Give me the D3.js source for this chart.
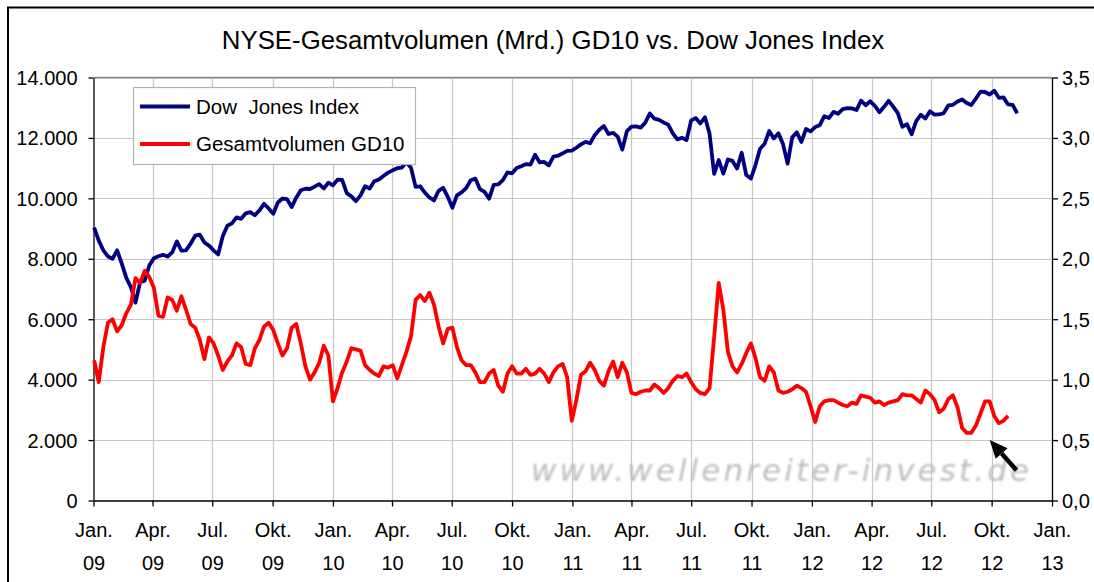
<!DOCTYPE html>
<html>
<head>
<meta charset="utf-8">
<script src="https://cdn.jsdelivr.net/npm/d3@7"></script>
<style>
body { margin: 0; background: #fff; }
svg text { font-family: "Liberation Sans", Arial, sans-serif; fill: #000; }
</style>
</head>
<body>
<div id="chart"></div>
<script>
// Dow Jones Index, weekly closes
var dow2009 = [9034, 8599, 8281, 8077, 8001, 8280, 7850, 7366, 7063, 6550, 7224, 7278, 7776, 8018, 8083, 8131, 8076, 8212, 8575, 8268,
    8277, 8500, 8764, 8799, 8539, 8438, 8280, 8146, 8743, 9093, 9171, 9370, 9321, 9505, 9544, 9441, 9605, 9820, 9665, 9487,
    9864, 9995, 9972, 9712, 10023, 10270, 10318, 10309, 10388, 10471, 10328, 10520];
var dow2010 = [10428, 10618, 10610, 10172, 10067, 9908, 10099, 10402, 10325, 10567, 10625, 10742, 10851, 10927, 10997, 11019, 11204, 11009, 10380, 10400,
    10193, 10030, 9932, 10250, 10350, 10050, 9686, 10100, 10200, 10340, 10600, 10654, 10303, 10214, 9990, 10448, 10462, 10607, 10860, 10829,
    11006, 11062, 11133, 11118, 11444, 11192, 11204, 11092, 11382, 11410, 11491, 11573];
var dow2011 = [11578, 11675, 11787, 11871, 11823, 12092, 12273, 12391, 12130, 12169, 12044, 11613, 12221, 12376, 12380, 12341, 12505, 12811, 12638, 12596,
    12512, 12441, 12151, 11952, 12004, 11934, 12582, 12657, 12480, 12681, 12143, 10810, 11269, 10818, 11285, 11240, 10992, 11509, 10771, 10655,
    11103, 11644, 11809, 12231, 11983, 12153, 11796, 11150, 12019, 12184, 11867, 12294];
var dow2012 = [12218, 12360, 12422, 12720, 12660, 12862, 12801, 12950, 12983, 12978, 12922, 13233, 13081, 13212, 13060, 12850, 13029, 13228, 13038, 12821,
    12369, 12455, 12119, 12554, 12767, 12640, 12880, 12772, 12777, 12822, 13075, 13096, 13207, 13275, 13157, 13090, 13306, 13530, 13520, 13437,
    13560, 13328, 13343, 13107, 13093, 12815];

// NYSE total volume, 10-day average (Mrd.)
var vol2009 = [1.16, 0.98, 1.27, 1.47, 1.50, 1.40, 1.45, 1.55, 1.62, 1.84, 1.80, 1.90, 1.85, 1.76, 1.53, 1.52, 1.68, 1.66, 1.57, 1.69,
    1.58, 1.46, 1.43, 1.33, 1.17, 1.35, 1.30, 1.20, 1.08, 1.15, 1.20, 1.30, 1.27, 1.13, 1.12, 1.26, 1.33, 1.44, 1.47, 1.41,
    1.30, 1.20, 1.26, 1.43, 1.46, 1.30, 1.11, 1.00, 1.06, 1.14, 1.28, 1.20];
var vol2010 = [0.82, 0.93, 1.06, 1.15, 1.26, 1.25, 1.24, 1.12, 1.08, 1.05, 1.03, 1.11, 1.10, 1.12, 1.01, 1.12, 1.23, 1.36, 1.66, 1.70,
    1.65, 1.72, 1.62, 1.44, 1.30, 1.42, 1.43, 1.27, 1.16, 1.12, 1.12, 1.06, 0.98, 0.98, 1.05, 1.08, 0.95, 0.90, 1.05, 1.11,
    1.05, 1.05, 1.09, 1.04, 1.05, 1.09, 1.05, 0.98, 1.06, 1.11, 1.13, 1.02];
var vol2011 = [0.66, 0.83, 1.04, 1.07, 1.14, 1.08, 0.99, 0.95, 1.07, 1.15, 1.02, 1.14, 1.06, 0.89, 0.88, 0.90, 0.91, 0.91, 0.96, 0.93,
    0.89, 0.93, 0.99, 1.03, 1.02, 1.05, 0.98, 0.92, 0.89, 0.88, 0.93, 1.35, 1.80, 1.58, 1.23, 1.11, 1.06, 1.13, 1.22, 1.30,
    1.18, 1.02, 0.99, 1.11, 1.06, 0.91, 0.89, 0.90, 0.92, 0.95, 0.93, 0.90];
var vol2012 = [0.78, 0.65, 0.78, 0.82, 0.83, 0.83, 0.81, 0.79, 0.78, 0.81, 0.80, 0.87, 0.86, 0.85, 0.81, 0.82, 0.79, 0.81, 0.82, 0.83,
    0.88, 0.87, 0.87, 0.84, 0.81, 0.91, 0.88, 0.83, 0.73, 0.76, 0.84, 0.87, 0.77, 0.60, 0.56, 0.56, 0.62, 0.72, 0.82, 0.82,
    0.70, 0.64, 0.66, 0.70];

var leftTicks = [0, 2000, 4000, 6000, 8000, 10000, 12000, 14000];
var leftTickLabels = ["0", "2.000", "4.000", "6.000", "8.000", "10.000", "12.000", "14.000"];
var rightTicks = [0, 0.5, 1, 1.5, 2, 2.5, 3, 3.5];
var rightTickLabels = ["0,0", "0,5", "1,0", "1,5", "2,0", "2,5", "3,0", "3,5"];
var monthLabels = ["Jan.", "Apr.", "Jul.", "Okt."];
var seriesNames = ["Dow  Jones Index", "Gesamtvolumen GD10"];
var titleText = "NYSE-Gesamtvolumen (Mrd.) GD10 vs. Dow Jones Index";
var watermarkText = "www.wellenreiter-invest.de";

var svgWidth = 1094;
var svgHeight = 582;
var plot = { left: 93.5, right: 1052, top: 77.5, bottom: 500.5 };

var svg = d3.select("#chart").append("svg")
    .attr("width", svgWidth)
    .attr("height", svgHeight);

// weekly dates (Fridays) starting with the first trading week of 2009
var weeks = d3.timeFriday.range(new Date(2009, 0, 2), new Date(2012, 10, 10));
var dow = dow2009.concat(dow2010, dow2011, dow2012);
var vol = vol2009.concat(vol2010, vol2011, vol2012);

var dowData = weeks.map(function(d, i) { return { date: d, value: dow[i] }; });
var volData = weeks.slice(0, vol.length).map(function(d, i) { return { date: d, value: vol[i] }; });

var x = d3.scaleTime()
    .domain([new Date(2009, 0, 1), new Date(2013, 0, 1)])
    .range([plot.left, plot.right]);
var yLeft = d3.scaleLinear().domain([0, 14000]).range([plot.bottom, plot.top]);
var yRight = d3.scaleLinear().domain([0, 3.5]).range([plot.bottom, plot.top]);

var quarters = d3.timeMonth.every(3).range(new Date(2009, 0, 1), new Date(2013, 0, 2));

// outer frame of the chart
svg.append("path")
    .attr("d", "M8,582 V7.5 H1094")
    .attr("fill", "none")
    .attr("stroke", "#000")
    .attr("stroke-width", 2);

// title
svg.append("text")
    .attr("x", 553)
    .attr("y", 49)
    .attr("text-anchor", "middle")
    .style("font-size", "25.8px")
    .text(titleText);

// grid
var grid = svg.append("g");
grid.selectAll(".hgrid")
    .data(leftTicks.slice(1))
    .enter()
    .append("line")
    .attr("x1", plot.left)
    .attr("x2", plot.right)
    .attr("y1", d => Math.round(yLeft(d)) + 0.5)
    .attr("y2", d => Math.round(yLeft(d)) + 0.5)
    .attr("stroke", "#c6c6c6")
    .attr("stroke-width", 1.2);
grid.selectAll(".vgrid")
    .data(quarters.slice(1, -1))
    .enter()
    .append("line")
    .attr("x1", d => Math.round(x(d)) + 0.5)
    .attr("x2", d => Math.round(x(d)) + 0.5)
    .attr("y1", plot.top)
    .attr("y2", plot.bottom)
    .attr("stroke", "#c6c6c6")
    .attr("stroke-width", 1.2);

// watermark
var defs = svg.append("defs");
defs.append("filter").attr("id", "soft")
    .append("feGaussianBlur").attr("stdDeviation", 0.8);
svg.append("text")
    .attr("x", 531)
    .attr("y", 481)
    .attr("textLength", 498)
    .attr("lengthAdjust", "spacing")
    .attr("filter", "url(#soft)")
    .style("font-family", "'DejaVu Sans', sans-serif")
    .style("font-style", "italic")
    .style("font-size", "31px")
    .style("fill", "#bdbdbd")
    .text(watermarkText);

// axes
var leftAxis = d3.axisLeft(yLeft)
    .tickValues(leftTicks)
    .tickSize(5)
    .tickSizeOuter(0)
    .tickPadding(11)
    .tickFormat((d, i) => leftTickLabels[i]);
var rightAxis = d3.axisRight(yRight)
    .tickValues(rightTicks)
    .tickSize(6)
    .tickSizeOuter(0)
    .tickPadding(4)
    .tickFormat((d, i) => rightTickLabels[i]);
var bottomAxis = d3.axisBottom(x)
    .tickValues(quarters)
    .tickSize(6)
    .tickSizeOuter(0)
    .tickFormat("");

var gLeft = svg.append("g")
    .attr("transform", `translate(${plot.left}, 0)`)
    .call(leftAxis);
var gRight = svg.append("g")
    .attr("transform", `translate(${plot.right}, 0)`)
    .call(rightAxis);
var gBottom = svg.append("g")
    .attr("transform", `translate(0, ${plot.bottom})`)
    .call(bottomAxis);

[gLeft, gRight, gBottom].forEach(function(g) {
    g.selectAll("path, line").attr("stroke", "#000").attr("stroke-width", 1.3);
    g.selectAll("text")
        .style("font-family", "'Liberation Sans', Arial, sans-serif")
        .style("font-size", "20px")
        .attr("fill", "#000");
});
gLeft.selectAll("text").attr("dy", "0.35em");
gRight.selectAll("text").attr("dy", "0.35em");

gBottom.selectAll(".tick").each(function(d) {
    var t = d3.select(this);
    t.append("text")
        .attr("y", 36.5)
        .attr("text-anchor", "middle")
        .style("font-size", "20px")
        .text(monthLabels[d.getMonth() / 3]);
    t.append("text")
        .attr("y", 69)
        .attr("text-anchor", "middle")
        .style("font-size", "20px")
        .text(d3.timeFormat("%y")(d));
});

// top border of the plot area
svg.append("line")
    .attr("x1", plot.left)
    .attr("x2", plot.right)
    .attr("y1", plot.top)
    .attr("y2", plot.top)
    .attr("stroke", "#8a8a8a")
    .attr("stroke-width", 1.3);

// series
var dowLine = d3.line()
    .x(d => x(d.date))
    .y(d => yLeft(d.value));
var volLine = d3.line()
    .x(d => x(d.date))
    .y(d => yRight(d.value));

svg.append("path")
    .datum(dowData)
    .attr("d", dowLine)
    .attr("fill", "none")
    .attr("stroke", "#000080")
    .attr("stroke-width", 3.8)
    .attr("stroke-linejoin", "round");

svg.append("path")
    .datum(volData)
    .attr("d", volLine)
    .attr("fill", "none")
    .attr("stroke", "#ff0000")
    .attr("stroke-width", 3.8)
    .attr("stroke-linejoin", "round");

// legend
var legend = svg.append("g");
legend.append("rect")
    .attr("x", 133.5)
    .attr("y", 87.5)
    .attr("width", 282)
    .attr("height", 77)
    .attr("fill", "#fff")
    .attr("stroke", "#b4b4b4")
    .attr("stroke-width", 1.2);
var legendColors = ["#000080", "#ff0000"];
seriesNames.forEach(function(name, i) {
    var ly = 106.5 + i * 37.5;
    legend.append("line")
        .attr("x1", 140)
        .attr("x2", 190)
        .attr("y1", ly)
        .attr("y2", ly)
        .attr("stroke", legendColors[i])
        .attr("stroke-width", 3.8);
    legend.append("text")
        .attr("x", 196)
        .attr("y", ly + 7)
        .style("font-size", "20.5px")
        .style("white-space", "pre")
        .attr("xml:space", "preserve")
        .text(name);
});

// arrow pointing at the latest volume low
var tip = [x(new Date(2012, 8, 28)), yRight(0.5)];
var tail = [x(new Date(2012, 10, 8)), yRight(0.25)];
var ang = Math.atan2(tip[1] - tail[1], tip[0] - tail[0]);
var headLen = 18, headHalf = 8;
var base = [tip[0] - headLen * Math.cos(ang), tip[1] - headLen * Math.sin(ang)];
svg.append("line")
    .attr("x1", tail[0])
    .attr("y1", tail[1])
    .attr("x2", base[0])
    .attr("y2", base[1])
    .attr("stroke", "#000")
    .attr("stroke-width", 4.5);
svg.append("path")
    .attr("d", "M" + tip[0] + "," + tip[1] +
        "L" + (base[0] + headHalf * Math.sin(ang)) + "," + (base[1] - headHalf * Math.cos(ang)) +
        "L" + (base[0] - headHalf * Math.sin(ang)) + "," + (base[1] + headHalf * Math.cos(ang)) + "Z")
    .attr("fill", "#000");
</script>
</body>
</html>
